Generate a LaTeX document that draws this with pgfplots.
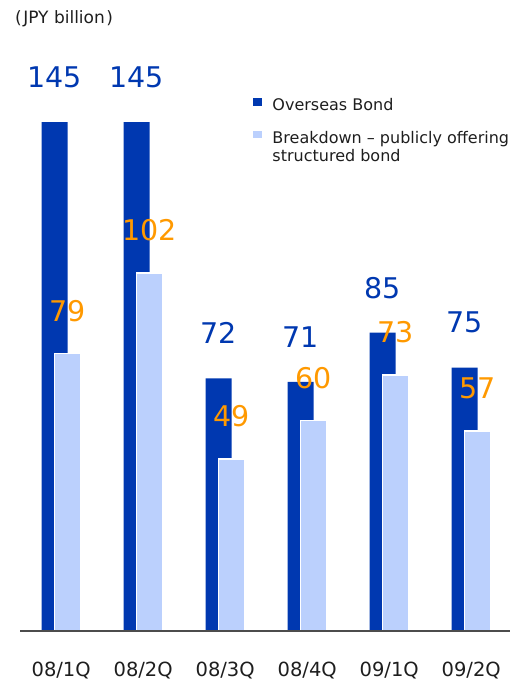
\documentclass[border=0pt]{standalone}
\usepackage{fontspec}
\setmainfont{DejaVu Sans}
\usepackage{pgfplots}
\pgfplotsset{compat=1.18}
\definecolor{bondblue}{RGB}{0,56,176}
\definecolor{structblue}{RGB}{187,208,253}
\definecolor{labelorange}{RGB}{255,153,0}
\definecolor{textgray}{RGB}{30,30,30}

\begin{document}
\begin{tikzpicture}
\useasboundingbox (0,0) rectangle (525pt,681pt);
\begin{axis}[
  at={(20pt,50pt)}, anchor=south west,
  scale only axis, width=490pt, height=614.25pt,
  xmin=-0.502, xmax=5.473, ymin=0, ymax=175,
  axis x line*=bottom, axis y line=none,
  axis line style={draw=black!70, line width=1.2pt},
  ybar, bar width=26pt,
  xtick={0,...,5},
  xticklabels={08/1Q,08/2Q,08/3Q,08/4Q,09/1Q,09/2Q},
  major tick length=0pt,
  xticklabel style={anchor=base, yshift=-45.7pt, text=textgray,
    font=\fontsize{19.5}{22}\selectfont},
  ytick=\empty,
  clip=false,
  axis on top,
  /pgf/number format/assume math mode=true,
  every axis title shift=0pt,
  title={(\kern1.5pt JPY billion\kern1.5pt)},
  title style={at={(-0.0102,0.9886)}, anchor=base west, inner sep=0pt,
    text=textgray, font=\fontsize{17}{20}\selectfont},
  legend style={at={(0.4761,0.8674)}, anchor=north west, draw=none, fill=none,
    inner sep=0pt, row sep=18.4pt, column sep=10.5pt, text=textgray,
    font=\fontsize{16}{18.3}\selectfont,
    nodes={inner sep=0pt}},
  legend cell align=left,
  legend style={cells={anchor=base west}},
  legend image code/.code={\fill[#1, draw=none] (0pt,4.8pt) rectangle (8.5pt,12.5pt);},
]
% overseas bond totals
\addplot[fill=bondblue, draw=none, bar shift=-6.5pt,
  nodes near coords,
  nodes near coords style={anchor=center, yshift=45pt, text=bondblue,
    font=\fontsize{28.5}{30}\selectfont}]
  coordinates {(0,145) (1,145) (2,72) (3,71) (4,85) (5,75)};
\addlegendentry{Overseas Bond}
% publicly offered structured bonds (subset)
\addplot[fill=structblue, draw=white, line width=1.5pt, bar shift=6.5pt,
  nodes near coords,
  nodes near coords style={anchor=center, yshift=42.5pt, text=labelorange,
    font=\fontsize{28.5}{30}\selectfont}]
  coordinates {(0,79) (1,102) (2,49) (3,60) (4,73) (5,57)};
\addlegendentry{\vtop{\hbox{Breakdown – publicly offering}\hbox{structured bond}}}
\end{axis}
\end{tikzpicture}
\end{document}
